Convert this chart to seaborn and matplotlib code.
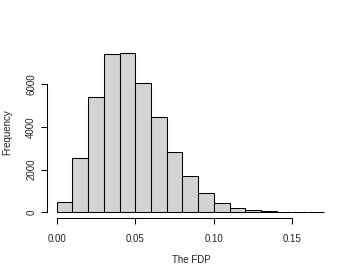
import matplotlib
matplotlib.use("Agg")

import matplotlib.pyplot as plt
import numpy as np
import pandas as pd
import seaborn as sns

# Histogram of the FDP (bin width 0.01), counts
bin_edges = [0.00, 0.01, 0.02, 0.03, 0.04, 0.05, 0.06, 0.07, 0.08, 0.09,
             0.10, 0.11, 0.12, 0.13, 0.14, 0.15, 0.16, 0.17]
counts = [480, 2560, 5430, 7420, 7490, 6060, 4490, 2820, 1700, 890,
          440, 190, 90, 50, 20, 8, 3]
x_ticks = [0.00, 0.05, 0.10, 0.15]
x_tick_labels = ["0.00", "0.05", "0.10", "0.15"]
y_ticks = [0, 2000, 4000, 6000]

sns.set_style("white")
plt.rcParams["font.family"] = ["Liberation Sans", "DejaVu Sans"]
FS = 7

edges = np.array(bin_edges)
df = pd.DataFrame({"fdp": (edges[:-1] + edges[1:]) / 2, "n": counts})

fig = plt.figure(figsize=(3.46, 2.77), dpi=100)
ax = fig.add_axes([0.1367, 0.2112, 0.8303, 0.6213])

sns.histplot(data=df, x="fdp", weights="n", bins=list(bin_edges),
             stat="count", color="#D3D3D3", edgecolor="black",
             linewidth=0.75, alpha=1.0, ax=ax)

# R-style axes: 4% padding, detached axis lines spanning the ticks only
xr = edges[-1] - edges[0]
ax.set_xlim(edges[0] - 0.035 * xr, edges[-1] + 0.04 * xr)
ymax = max(counts)
ax.set_ylim(-0.04 * ymax, ymax * 1.04)

for side in ("top", "right"):
    ax.spines[side].set_visible(False)
ax.spines["left"].set_bounds(y_ticks[0], y_ticks[-1])
ax.spines["bottom"].set_bounds(x_ticks[0], x_ticks[-1])
for side in ("left", "bottom"):
    ax.spines[side].set_linewidth(0.75)
    ax.spines[side].set_color("black")

ax.set_xticks(x_ticks)
ax.set_xticklabels(x_tick_labels)
ax.set_yticks(y_ticks)
ax.set_yticklabels([str(v) for v in y_ticks], rotation=90, va="center")
ax.tick_params(axis="both", bottom=True, left=True, direction="out",
               length=4, width=0.75, color="black", labelsize=FS,
               labelcolor="#222222")
ax.tick_params(axis="x", pad=7)
ax.tick_params(axis="y", pad=4)

ax.set_xlabel("The FDP", fontsize=FS, color="#222222", va="center")
ax.set_ylabel("Frequency", fontsize=FS, color="#222222", va="center")
ax.xaxis.set_label_coords(0.5, -0.241)
ax.yaxis.set_label_coords(-0.138, 0.5)

fig.savefig("out.png", dpi=100)
